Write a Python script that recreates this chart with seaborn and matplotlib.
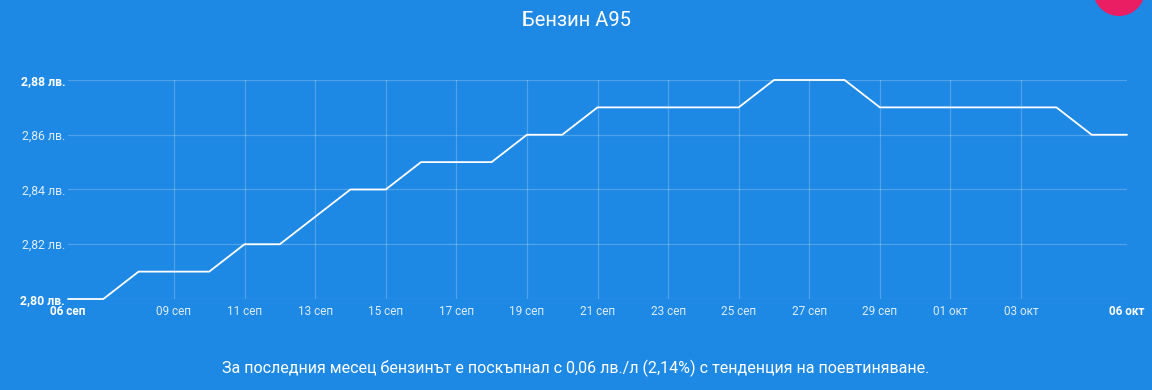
import matplotlib
matplotlib.use("Agg")
import matplotlib.pyplot as plt
from matplotlib.patches import Circle
import seaborn as sns
import pandas as pd

# ---- data ----
days = ["06 сеп", "07 сеп", "08 сеп", "09 сеп", "10 сеп", "11 сеп", "12 сеп", "13 сеп",
        "14 сеп", "15 сеп", "16 сеп", "17 сеп", "18 сеп", "19 сеп", "20 сеп", "21 сеп",
        "22 сеп", "23 сеп", "24 сеп", "25 сеп", "26 сеп", "27 сеп", "28 сеп", "29 сеп",
        "30 сеп", "01 окт", "02 окт", "03 окт", "04 окт", "05 окт", "06 окт"]
prices = [2.80, 2.80, 2.81, 2.81, 2.81, 2.82, 2.82, 2.83,
          2.84, 2.84, 2.85, 2.85, 2.85, 2.86, 2.86, 2.87,
          2.87, 2.87, 2.87, 2.87, 2.88, 2.88, 2.88, 2.87,
          2.87, 2.87, 2.87, 2.87, 2.87, 2.86, 2.86]
y_ticks = [2.80, 2.82, 2.84, 2.86, 2.88]
y_tick_labels = ["2,80 лв.", "2,82 лв.", "2,84 лв.", "2,86 лв.", "2,88 лв."]
x_tick_labels = ["06 сеп", "09 сеп", "11 сеп", "13 сеп", "15 сеп", "17 сеп", "19 сеп",
                 "21 сеп", "23 сеп", "25 сеп", "27 сеп", "29 сеп", "01 окт", "03 окт", "06 окт"]
title = "Бензин А95"
footer = "За последния месец бензинът е поскъпнал с 0,06 лв./л (2,14%) с тенденция на поевтиняване."

BG = "#1E88E5"

sns.set_theme(style="white")
plt.rcParams["font.family"] = ["Roboto", "DejaVu Sans"]

df = pd.DataFrame({"day": range(len(days)), "price": prices})

fig = plt.figure(figsize=(11.52, 3.90), dpi=100, facecolor=BG)
ax = fig.add_axes([68 / 1152, 1 - 299 / 390, (1127 - 68) / 1152, (299 - 80) / 390])
ax.set_facecolor(BG)

sns.lineplot(data=df, x="day", y="price", ax=ax, color="white", linewidth=1.3, clip_on=False)

ax.set_xlim(0, len(days) - 1)
ax.set_ylim(2.80, 2.88)

xt = [days.index(l) for l in x_tick_labels]
ax.set_xticks(xt)
ax.set_xticklabels(x_tick_labels)
ax.set_yticks(y_ticks)
ax.set_yticklabels(y_tick_labels)

for i, lab in enumerate(ax.get_xticklabels()):
    edge = i in (0, len(x_tick_labels) - 1)
    lab.set_color("white" if edge else (1, 1, 1, 0.85))
    lab.set_fontweight("bold" if edge else "normal")
    lab.set_fontsize(8.5)
for i, lab in enumerate(ax.get_yticklabels()):
    edge = i in (0, len(y_tick_labels) - 1)
    lab.set_color("white" if edge else (1, 1, 1, 0.85))
    lab.set_fontweight("bold" if edge else "normal")
    lab.set_fontsize(8.8)

ax.tick_params(axis="x", length=0, pad=4)
ax.tick_params(axis="y", length=0, pad=2)

# grid
for v in xt[1:-1]:
    ax.axvline(v, color="white", alpha=0.22, linewidth=0.9, zorder=0)
for h in y_ticks:
    ax.axhline(h, color="white", alpha=0.22, linewidth=0.9, zorder=0)

for s in ax.spines.values():
    s.set_visible(False)
ax.set_xlabel("")
ax.set_ylabel("")

fig.text(0.5, 1 - 20 / 390, title, ha="center", va="center", color="white", fontsize=14.5)
fig.text(576 / 1152, 1 - 368 / 390, footer, ha="center", va="center", color="white", fontsize=11.5)

# decorative pink circle at the top-right corner
circ = Circle((1119 / 100, (390 + 10) / 100), 26 / 100, transform=fig.dpi_scale_trans,
              facecolor="#E91E63", edgecolor="none")
fig.patches.append(circ)

fig.savefig("out.png", dpi=100, facecolor=BG)
